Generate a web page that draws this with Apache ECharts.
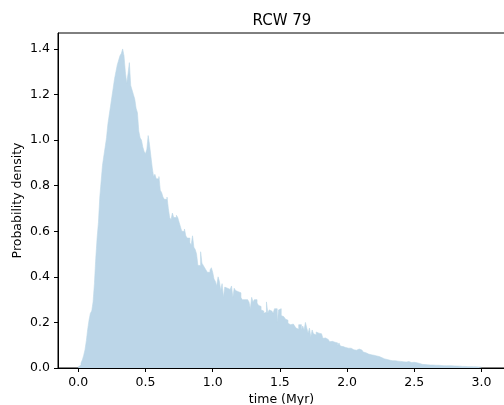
<!DOCTYPE html>
<html>
<head>
<meta charset="utf-8">
<script src="https://cdn.jsdelivr.net/npm/echarts@6/dist/echarts.min.js"></script>
<style>html,body{margin:0;padding:0;background:#fff;}#chart{width:504px;height:405px;}</style>
</head>
<body>
<div id="chart"></div>
<script>
const titleText = "RCW 79";
const xLabel = "time (Myr)";
const yLabel = "Probability density";
const binStart = 0.0;
const binWidth = 0.01;
const density = [
  0.005, 0.012, 0.022, 0.035, 0.055, 0.08, 0.12, 0.17, 0.21, 0.24,
  0.25, 0.29, 0.37, 0.48, 0.57, 0.64, 0.75, 0.82, 0.89, 0.93,
  0.97, 1.01, 1.07, 1.11, 1.15, 1.19, 1.23, 1.27, 1.30, 1.33,
  1.35, 1.37, 1.38, 1.40, 1.37, 1.30, 1.25, 1.29, 1.34, 1.24,
  1.22, 1.20, 1.18, 1.14, 1.12, 1.04, 1.01, 1.00, 0.97, 0.95,
  0.94, 0.96, 1.02, 0.98, 0.93, 0.88, 0.84, 0.85, 0.83, 0.83,
  0.84, 0.78, 0.77, 0.75, 0.74, 0.74, 0.75, 0.70, 0.66, 0.65,
  0.68, 0.66, 0.66, 0.67, 0.66, 0.64, 0.62, 0.60, 0.60, 0.61,
  0.58, 0.57, 0.57, 0.55, 0.54, 0.58, 0.53, 0.52, 0.50, 0.45,
  0.45, 0.51, 0.46, 0.45, 0.44, 0.43, 0.42, 0.42, 0.43, 0.44,
  0.42, 0.39, 0.38, 0.36, 0.40, 0.38, 0.34, 0.37, 0.31, 0.355,
  0.35, 0.355, 0.345, 0.34, 0.36, 0.31, 0.35, 0.34, 0.335, 0.335,
  0.33, 0.31, 0.30, 0.30, 0.30, 0.30, 0.295, 0.29, 0.26, 0.31,
  0.29, 0.30, 0.30, 0.285, 0.275, 0.27, 0.255, 0.25, 0.24, 0.245,
  0.29, 0.24, 0.255, 0.25, 0.245, 0.24, 0.26, 0.26, 0.20, 0.255,
  0.26, 0.23, 0.225, 0.22, 0.215, 0.21, 0.196, 0.19, 0.196, 0.193,
  0.19, 0.184, 0.175, 0.17, 0.19, 0.19, 0.167, 0.184, 0.167, 0.20,
  0.175, 0.153, 0.175, 0.136, 0.167, 0.15, 0.145, 0.158, 0.153, 0.153,
  0.15, 0.145, 0.13, 0.132, 0.136, 0.125, 0.123, 0.115, 0.117, 0.115,
  0.113, 0.11, 0.11, 0.10, 0.11, 0.096, 0.094, 0.10, 0.09, 0.087,
  0.087, 0.083, 0.087, 0.086, 0.08, 0.079, 0.078, 0.083, 0.083, 0.076,
  0.079, 0.074, 0.07, 0.067, 0.064, 0.061, 0.06, 0.058, 0.057, 0.056,
  0.057, 0.053, 0.051, 0.05, 0.047, 0.045, 0.043, 0.04, 0.039, 0.037,
  0.035, 0.034, 0.033, 0.032, 0.032, 0.032, 0.031, 0.030, 0.030, 0.029,
  0.028, 0.027, 0.027, 0.026, 0.027, 0.028, 0.026, 0.024, 0.023, 0.025,
  0.026, 0.023, 0.021, 0.020, 0.018, 0.016, 0.016, 0.015, 0.015, 0.014,
  0.013, 0.013, 0.013, 0.013, 0.012, 0.012, 0.012, 0.012, 0.012, 0.011,
  0.010, 0.010, 0.010, 0.010, 0.010, 0.010, 0.0095, 0.0095, 0.009, 0.009,
  0.009, 0.0085, 0.008, 0.008, 0.0075, 0.007, 0.007, 0.0068, 0.0065, 0.006,
  0.006, 0.006, 0.0058, 0.0055, 0.0053, 0.005, 0.005, 0.0048, 0.0045, 0.004
];
const xTicks = [0.0, 0.5, 1.0, 1.5, 2.0, 2.5, 3.0];
const yTicks = [0.0, 0.2, 0.4, 0.6, 0.8, 1.0, 1.2, 1.4];

// step outline: each bin's left edge with its density, closed at the last right edge
const pts = density.map((v, i) => [binStart + i * binWidth, v]);
pts.push([binStart + density.length * binWidth, density[density.length - 1]]);

const font = 'DejaVu Sans';
const barColor = '#bcd6e8';
const chart = echarts.init(document.getElementById('chart'), null, {renderer: 'canvas'});
chart.setOption({
  animation: false,
  backgroundColor: '#ffffff',
  title: {
    text: titleText, left: 282, top: 14, textAlign: 'center', padding: 0,
    textStyle: {fontFamily: font, fontSize: 15, fontWeight: 'normal', color: '#000'}
  },
  grid: {left: 58, right: -1, top: 33, bottom: 37, show: true, borderColor: '#000', borderWidth: 1,
    backgroundColor: 'transparent', outerBoundsMode: 'none', containLabel: false},
  xAxis: {
    type: 'value', min: -0.151, max: 3.175,
    name: xLabel, nameLocation: 'middle', nameGap: 25, nameMoveOverlap: false,
    nameTextStyle: {fontFamily: font, fontSize: 12.5, color: '#000'},
    axisLine: {show: true, onZero: false, lineStyle: {color: '#000', width: 1}},
    axisTick: {show: true, length: 4, lineStyle: {color: '#000', width: 1}, customValues: xTicks},
    axisLabel: {fontFamily: font, fontSize: 12.5, color: '#000', margin: 8, customValues: xTicks,
      formatter: v => v.toFixed(1)},
    splitLine: {show: false}
  },
  yAxis: {
    type: 'value', min: 0, max: 1.47,
    name: yLabel, nameLocation: 'middle', nameGap: 34, nameRotate: 90, nameMoveOverlap: false,
    nameTextStyle: {fontFamily: font, fontSize: 12.5, color: '#000'},
    axisLine: {show: true, onZero: false, lineStyle: {color: '#000', width: 1}},
    axisTick: {show: true, length: 4, lineStyle: {color: '#000', width: 1}, customValues: yTicks},
    axisLabel: {fontFamily: font, fontSize: 12.5, color: '#000', margin: 8, customValues: yTicks,
      formatter: v => v.toFixed(1)},
    splitLine: {show: false}
  },
  series: [{
    type: 'line', data: pts, step: 'end', showSymbol: false, symbol: 'none',
    sampling: 'none', smooth: false,
    lineStyle: {width: 0.6, color: barColor},
    areaStyle: {color: barColor, opacity: 1},
    z: 1
  }]
});
</script>
</body>
</html>
